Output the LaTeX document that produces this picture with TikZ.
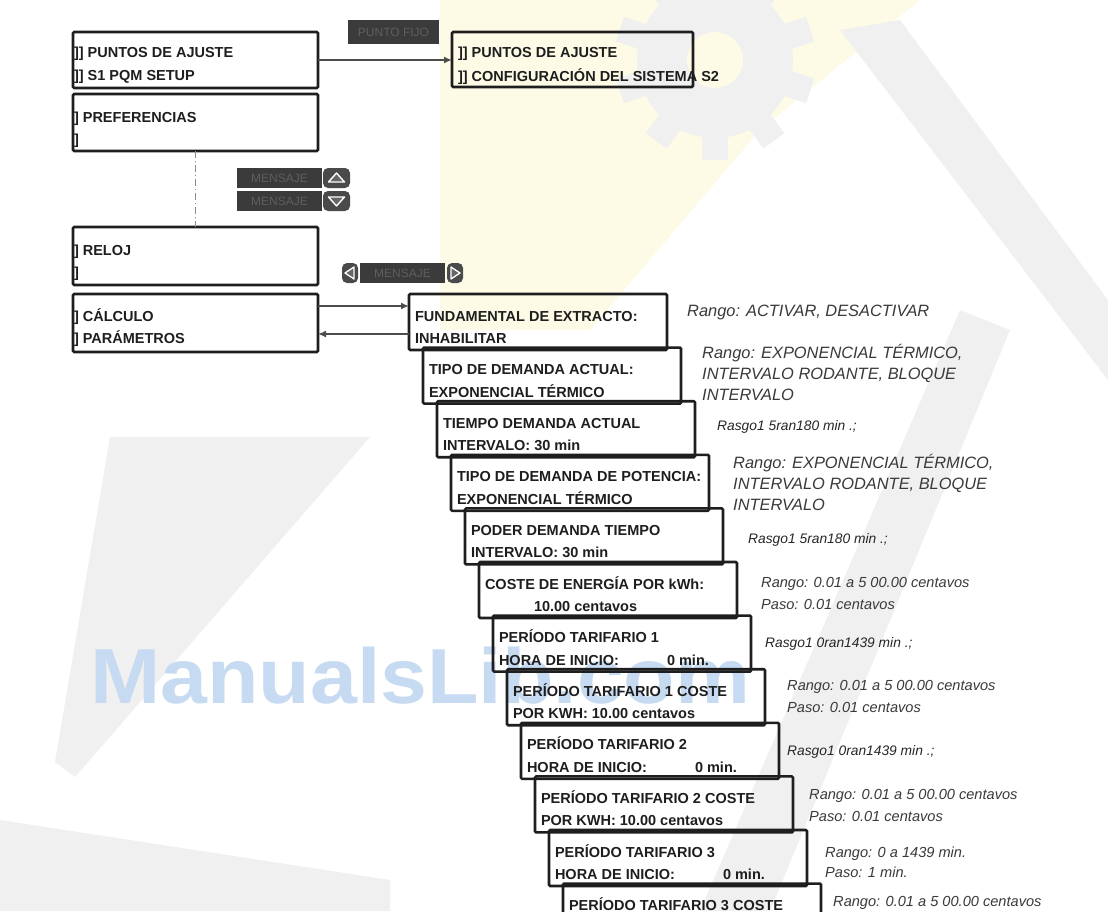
\documentclass[tikz,border=0pt]{standalone}
\usepackage{fontspec}
\setmainfont{Liberation Sans}
\usetikzlibrary{calc,arrows.meta}
\definecolor{ink}{HTML}{1E1E1E}
\definecolor{rangeink}{HTML}{3A3A3A}
\definecolor{keyfill}{HTML}{3B3B3B}
\definecolor{keytext}{HTML}{5E5E5E}
\definecolor{iconfill}{HTML}{4A4A4A}
\definecolor{wmgray}{HTML}{F0F0F0}
\definecolor{wmyellow}{HTML}{FDFBE6}
\definecolor{wmblue}{HTML}{C6DAF1}

\begin{document}
\begin{tikzpicture}[x=1pt,y=-1pt,
  panel/.style={draw=ink,line width=2.6pt,rounded corners=1.2pt,anchor=north west,inner sep=0pt,outer sep=0pt},
  ptext/.style={anchor=base west,inner sep=0pt,outer sep=0pt,text=ink,font=\fontsize{14.5}{17}\selectfont\bfseries},
  rng/.style={anchor=base west,inner sep=0pt,text=rangeink,font=\fontsize{16.4}{20}\selectfont\itshape},
  rngs/.style={anchor=base west,inner sep=0pt,text=rangeink,font=\fontsize{14.6}{18}\selectfont\itshape},
  rngx/.style={anchor=base west,inner sep=0pt,text=black!85,font=\fontsize{13.8}{16}\selectfont\itshape},
  keycap/.style={fill=keyfill,anchor=north west,inner sep=0pt,outer sep=0pt,text=keytext,font=\fontsize{12}{14}\selectfont},
  keyicon/.style={fill=iconfill,anchor=north west,inner sep=0pt,outer sep=0pt,rounded corners=5pt},
  flow/.style={draw=black!70,line width=1.8pt,-{Latex[length=8pt,width=7pt]}},
  guide/.style={draw=black!45,line width=1pt,dash pattern=on 7pt off 3pt on 1pt off 3pt}
]
\useasboundingbox[fill=white] (0,0) rectangle (1108,911);
\clip (0,0) rectangle (1108,911);

% faint background watermark
\fill[wmyellow] (440,0) -- (920,0) -- (760,130) -- (590,330) -- (440,330) -- cycle;
\begin{scope}[shift={(715,60)}]
  \fill[wmgray] (0,0) circle (78);
  \foreach \a in {0,36,...,324}
    \fill[wmgray,rotate=\a] (-13,-100) rectangle (13,-66);
  \fill[wmyellow] (0,0) circle (28);
\end{scope}
\fill[wmgray] (840,30) -- (900,20) -- (1108,300) -- (1108,380) -- cycle;
\fill[wmgray] (700,911) -- (770,911) -- (1010,330) -- (960,310) -- cycle;
\fill[wmgray] (110,437) -- (370,437) -- (75,777) -- (55,762) -- cycle;
\fill[wmgray] (0,820) -- (390,880) -- (390,911) -- (0,911) -- cycle;
\node[anchor=base west,inner sep=0pt,text=wmblue,xscale=1.08,
      font=\fontsize{78}{80}\selectfont\bfseries] (wm) at (90,703) {ManualsLib.com};

% main menu panels
\node[panel,minimum width=245pt,minimum height=56pt] (A) at (73,32) {};
\node[ptext] (Aa) at ($(A.north west)+(1,25)$) {]] PUNTOS DE AJUSTE};
\node[ptext] (Ab) at ($(A.north west)+(1,48)$) {]] S1 PQM SETUP};

\node[panel,minimum width=245pt,minimum height=57pt] (B) at (73,94) {};
\node[ptext] (Ba) at ($(B.north west)+(1,28)$) {] PREFERENCIAS};
\node[ptext] (Bb) at ($(B.north west)+(1,50)$) {]};

\node[panel,minimum width=245pt,minimum height=58pt] (C) at (73,227) {};
\node[ptext] (Ca) at ($(C.north west)+(1,28)$) {] RELOJ};
\node[ptext] (Cb) at ($(C.north west)+(1,50)$) {]};

\node[panel,minimum width=245pt,minimum height=58pt] (D) at (73,294) {};
\node[ptext] (Da) at ($(D.north west)+(1,27)$) {] CÁLCULO};
\node[ptext] (Db) at ($(D.north west)+(1,49)$) {] PARÁMETROS};

\node[panel,minimum width=241pt,minimum height=55pt] (E) at (452,32) {};
\node[ptext] (Ea) at ($(E.north west)+(6,25)$) {]] PUNTOS DE AJUSTE};
\node[ptext] (Eb) at ($(E.north west)+(6,49)$) {]] CONFIGURACIÓN DEL SISTEMA S2};

% keys
\node[keycap,minimum width=91pt,minimum height=24pt] (fix) at (348,20) {PUNTO FIJO};
\node[keycap,minimum width=85pt,minimum height=20pt] (mup) at (237,168) {MENSAJE};
\node[keycap,minimum width=85pt,minimum height=20pt] (mdn) at (237,191) {MENSAJE};
\node[keycap,minimum width=85pt,minimum height=20pt] (mlr) at (360,263) {MENSAJE};
\node[keyicon,minimum width=27pt,minimum height=20pt] (kup) at (323,168) {};
\node[keyicon,minimum width=27pt,minimum height=20pt] (kdn) at (323,191) {};
\node[keyicon,minimum width=16pt,minimum height=20pt] (klt) at (342,263) {};
\node[keyicon,minimum width=16pt,minimum height=20pt] (krt) at (447,263) {};
\draw[white,line width=1.4pt,fill=black!60,line join=round]
  ($(kup.center)+(-8,4)$) -- ($(kup.center)+(0,-5)$) -- ($(kup.center)+(8,4)$) -- cycle;
\draw[white,line width=1.4pt,fill=black!60,line join=round]
  ($(kdn.center)+(-8,-4)$) -- ($(kdn.center)+(0,5)$) -- ($(kdn.center)+(8,-4)$) -- cycle;
\draw[white,line width=1.3pt,fill=black!60,line join=round]
  ($(klt.center)+(4,-6)$) -- ($(klt.center)+(-5,0)$) -- ($(klt.center)+(4,6)$) -- cycle;
\draw[white,line width=1.3pt,fill=black!60,line join=round]
  ($(krt.center)+(-4,-6)$) -- ($(krt.center)+(5,0)$) -- ($(krt.center)+(-4,6)$) -- cycle;

% cascade of setting screens
\foreach \i/\a/\b/\o in {
  0/FUNDAMENTAL DE EXTRACTO:/INHABILITAR/0,
  1/TIPO DE DEMANDA ACTUAL:/EXPONENCIAL TÉRMICO/0,
  2/TIEMPO DEMANDA ACTUAL/INTERVALO: 30 min/0,
  3/TIPO DE DEMANDA DE POTENCIA:/EXPONENCIAL TÉRMICO/0,
  4/PODER DEMANDA TIEMPO/INTERVALO: 30 min/0,
  5/COSTE DE ENERGÍA POR kWh:/10.00 centavos/49,
  6/PERÍODO TARIFARIO 1/\makebox[168pt][l]{HORA DE INICIO:}0 min./0,
  7/PERÍODO TARIFARIO 1 COSTE/POR KWH: 10.00 centavos/0,
  8/PERÍODO TARIFARIO 2/\makebox[168pt][l]{HORA DE INICIO:}0 min./0,
  9/PERÍODO TARIFARIO 2 COSTE/POR KWH: 10.00 centavos/0,
  10/PERÍODO TARIFARIO 3/\makebox[168pt][l]{HORA DE INICIO:}0 min./0,
  11/PERÍODO TARIFARIO 3 COSTE/{}/0}
{
  \node[panel,minimum width=258pt,minimum height=56pt] (s\i) at ({409+14*\i},{294+53.6*\i}) {};
  \node[ptext] (sa\i) at ($(s\i.north west)+(6,27)$) {\a};
  \node[ptext] (sb\i) at ($(s\i.north west)+(6+\o,49.5)$) {\b};
}

% ranges
\node[rng] (r0) at (687,316) {Rango: ACTIVAR, DESACTIVAR};
\node[rng] (r1a) at (702,358) {Rango: EXPONENCIAL TÉRMICO,};
\node[rng] (r1b) at (702,379) {INTERVALO RODANTE, BLOQUE};
\node[rng] (r1c) at (702,400) {INTERVALO};
\node[rngx] (r2) at (717,430) {Rasgo1 5ran180 min .;};
\node[rng] (r3a) at (733,468) {Rango: EXPONENCIAL TÉRMICO,};
\node[rng] (r3b) at (733,489) {INTERVALO RODANTE, BLOQUE};
\node[rng] (r3c) at (733,510) {INTERVALO};
\node[rngx] (r4) at (748,543) {Rasgo1 5ran180 min .;};
\node[rngs] (r5a) at (761,587) {Rango: 0.01 a 5 00.00 centavos};
\node[rngs] (r5b) at (761,609) {Paso: 0.01 centavos};
\node[rngx] (r6) at (765,647) {Rasgo1 0ran1439 min .;};
\node[rngs] (r7a) at (787,690) {Rango: 0.01 a 5 00.00 centavos};
\node[rngs] (r7b) at (787,712) {Paso: 0.01 centavos};
\node[rngx] (r8) at (787,755) {Rasgo1 0ran1439 min .;};
\node[rngs] (r9a) at (809,799) {Rango: 0.01 a 5 00.00 centavos};
\node[rngs] (r9b) at (809,821) {Paso: 0.01 centavos};
\node[rngs] (r10a) at (825,857) {Rango: 0 a 1439 min.};
\node[rngs] (r10b) at (825,877) {Paso: 1 min.};
\node[rngs] (r11) at (833,906) {Rango: 0.01 a 5 00.00 centavos};

% connectors
\draw[flow] (A.east) -- (A.east -| E.west);
\draw[guide] (B.south) -- (C.north);
\draw[flow] ($(D.north east)+(0,12)$) -- ($(s0.north west)+(0,12)$);
\draw[flow] ($(s0.north west)+(0,40)$) -- ($(D.north east)+(0,40)$);
\end{tikzpicture}
\end{document}
